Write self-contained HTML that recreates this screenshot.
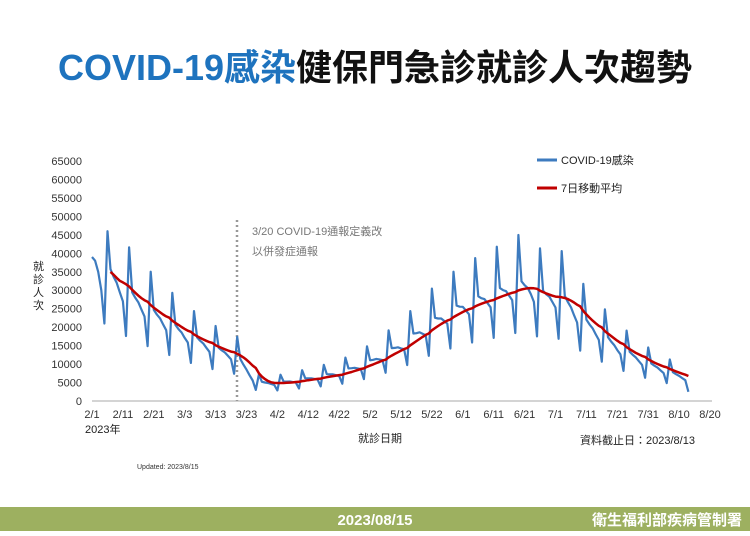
<!DOCTYPE html>
<html><head><meta charset="utf-8"><style>
body{margin:0;width:750px;height:531px;background:#fff;overflow:hidden;font-family:"Liberation Sans","Noto Sans CJK TC",sans-serif;}
</style></head><body>
<svg width="750" height="531" xmlns="http://www.w3.org/2000/svg" font-family="Liberation Sans, Noto Sans CJK TC, sans-serif">
<text x="375" y="80" text-anchor="middle" font-size="36" font-weight="bold"><tspan fill="#1e73be">COVID-19感染</tspan><tspan fill="#111">健保門急診就診人次趨勢</tspan></text>
<g id="yax" font-size="11" fill="#333" text-anchor="end"></g>
<g id="xax" font-size="11" fill="#333" text-anchor="middle"></g>
<line x1="92" y1="401" x2="712" y2="401" stroke="#aaa" stroke-width="1"/>
<line x1="237" y1="220" x2="237" y2="401" stroke="#999" stroke-width="2.5" stroke-dasharray="2,3"/>
<text x="252" y="235" font-size="11" fill="#777">3/20 COVID-19通報定義改</text>
<text x="252" y="255" font-size="11" fill="#777">以併發症通報</text>
<path id="blue" fill="none" stroke="#3d7bbf" stroke-width="2.2" stroke-linejoin="round"/>
<path id="red" fill="none" stroke="#c00000" stroke-width="2.5" stroke-linejoin="round"/>
<line x1="537" y1="160" x2="557" y2="160" stroke="#3d7bbf" stroke-width="3"/>
<text x="561" y="164" font-size="11" fill="#222">COVID-19感染</text>
<line x1="537" y1="188" x2="557" y2="188" stroke="#c00000" stroke-width="3"/>
<text x="561" y="192" font-size="11" fill="#222">7日移動平均</text>
<text font-size="11" fill="#222"><tspan x="33" y="270">就</tspan><tspan x="33" y="283">診</tspan><tspan x="33" y="296">人</tspan><tspan x="33" y="309">次</tspan></text>
<text x="85" y="433" font-size="11" fill="#222">2023年</text>
<text x="380" y="442" font-size="11" fill="#222" text-anchor="middle">就診日期</text>
<text x="580" y="444" font-size="11" fill="#222">資料截止日：2023/8/13</text>
<text x="137" y="469" font-size="7" fill="#333">Updated: 2023/8/15</text>
<rect x="0" y="507" width="750" height="24" fill="#9db060"/>
<text x="375" y="525" font-size="15" font-weight="bold" fill="#fff" text-anchor="middle">2023/08/15</text>
<text x="742" y="525" font-size="15" font-weight="bold" fill="#fff" text-anchor="end">衛生福利部疾病管制署</text>
</svg>
<script>
var X=d=>92+d*3.09, Y=v=>401-v*240/65000;
var ns="http://www.w3.org/2000/svg";
function t(g,x,y,s){var e=document.createElementNS(ns,"text");e.setAttribute("x",x);e.setAttribute("y",y);e.textContent=s;document.getElementById(g).appendChild(e);}
for(var v=0;v<=65000;v+=5000)t("yax",82,Y(v)+4,v);
var labs=["2/1","2/11","2/21","3/3","3/13","3/23","4/2","4/12","4/22","5/2","5/12","5/22","6/1","6/11","6/21","7/1","7/11","7/21","7/31","8/10","8/20"];
labs.forEach((l,i)=>t("xax",X(i*10),418,l));
var A=[[0,38000],[6,34000],[10,30000],[20,23500],[30,18000],[40,14000],[47,12000],[53,5000],[60,4800],[70,6000],[80,7500],[90,10500],[100,15000],[110,21000],[120,25500],[130,28500],[138,31000],[142,30500],[145,28500],[152,28000],[160,21000],[170,14500],[180,10000],[190,6800],[193,6000]];
function tr(d){for(var i=1;i<A.length;i++)if(d<=A[i][0]){var a=A[i-1],b=A[i];return a[1]+(b[1]-a[1])*(d-a[0])/(b[0]-a[0]);}return 6000;}
var f=[1.02,1.0,0.95,0.9,0.6,1.45,1.05];
var data=[];for(var d=0;d<=193;d++){data.push(tr(d)*f[d%7]);}
data[0]=39000;data[1]=38000;data[2]=35000;data[3]=30000;data[4]=21000;data[5]=46000;
data[193]=2500;
var p="";data.forEach((v,d)=>p+=(d?"L":"M")+X(d).toFixed(1)+","+Y(v).toFixed(1));
document.getElementById("blue").setAttribute("d",p);
var q="";for(var d=6;d<=193;d++){var s=0;for(var k=0;k<7;k++)s+=data[d-k];q+=(d>6?"L":"M")+X(d).toFixed(1)+","+Y(s/7).toFixed(1);}
document.getElementById("red").setAttribute("d",q);
</script>
</body></html>
